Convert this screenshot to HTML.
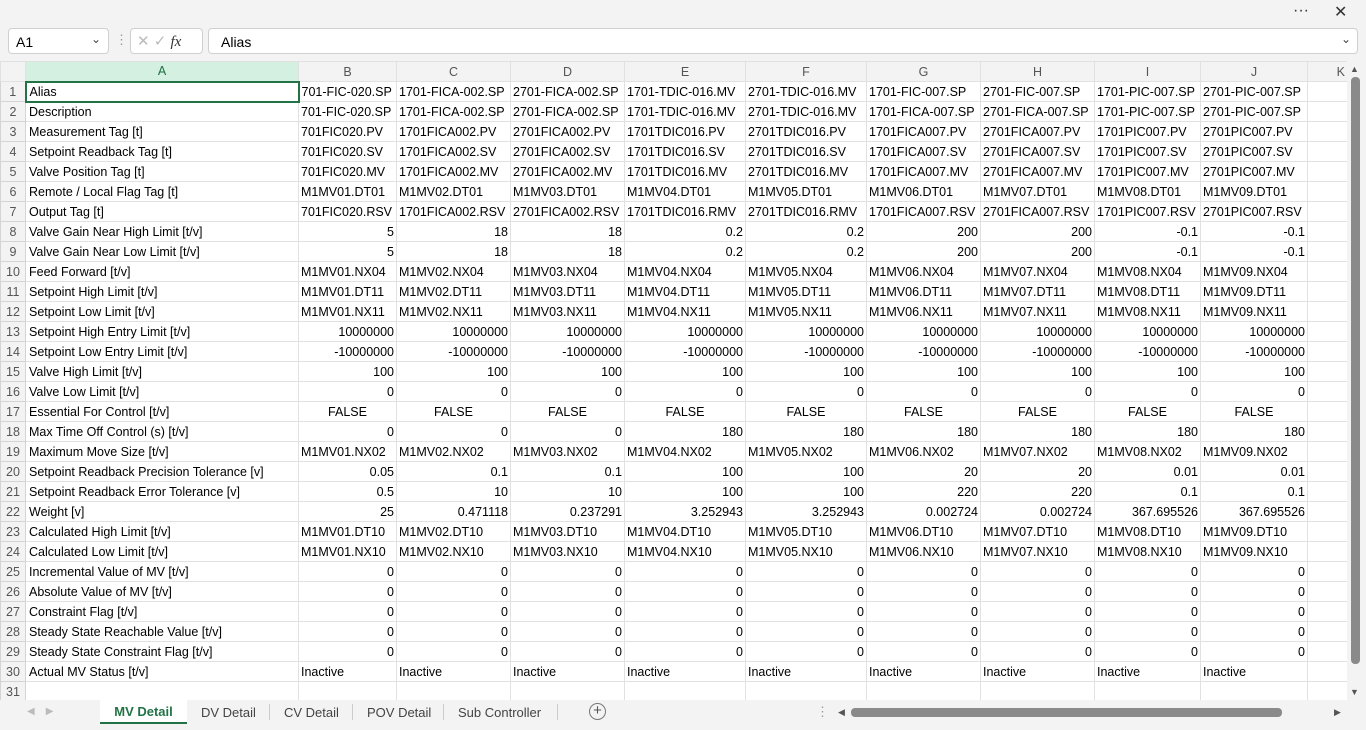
<!DOCTYPE html>
<html><head><meta charset="utf-8"><style>
*{box-sizing:border-box;margin:0;padding:0}
body{width:1366px;height:730px;background:#f3f3f3;font-family:"Liberation Sans",sans-serif;position:relative;overflow:hidden}
.abs{position:absolute}
table{position:absolute;left:0;top:61px;width:1347px;border-collapse:collapse;table-layout:fixed;background:#fff;font-size:12.5px;color:#000}
td{height:20px;border:1px solid #e1e1e1;padding:0 2px;white-space:nowrap;overflow:hidden;line-height:18px}
td.h{background:#f3f3f3;color:#555;text-align:center;border-color:#d4d4d4}
tr.hd td{background:#f3f3f3;color:#555;text-align:center;height:20px}
td.r{text-align:right}
td.c{text-align:center}
td.l{padding-left:3px}
</style></head><body>
<div class="abs" style="left:1293px;top:2px;font-size:16px;color:#333">···</div>
<div class="abs" style="left:1334px;top:2px;font-size:16px;color:#333">✕</div>
<div class="abs" style="left:8px;top:28px;width:101px;height:26px;background:#fff;border:1px solid #d0d0d0;border-radius:4px;font-size:14px;padding:5px 7px">A1<span style="position:absolute;right:7px;top:3px;font-size:12px;color:#444">⌄</span></div>
<div class="abs" style="left:115px;top:32px;color:#999;font-size:13px">⋮</div>
<div class="abs" style="left:130px;top:28px;width:73px;height:26px;background:#fff;border:1px solid #d0d0d0;border-radius:4px;font-size:15px;padding:3px 6px;color:#bbb">✕ ✓ <i style="color:#333;font-family:'Liberation Serif',serif">fx</i></div>
<div class="abs" style="left:208px;top:28px;width:1150px;height:26px;background:#fff;border:1px solid #d0d0d0;border-radius:4px;font-size:14px;padding:5px 12px">Alias<span style="position:absolute;right:6px;top:3px;font-size:12px;color:#444">⌄</span></div>
<table>
<colgroup><col style="width:25px"><col style="width:273px"><col style="width:98px"><col style="width:114px"><col style="width:114px"><col style="width:121px"><col style="width:121px"><col style="width:114px"><col style="width:114px"><col style="width:106px"><col style="width:107px"><col style="width:40px"></colgroup>
<tr class="hd"><td></td><td style="background:#d3f0e0;color:#1e6e42;border-bottom:2px solid #217346">A</td><td>B</td><td>C</td><td>D</td><td>E</td><td>F</td><td>G</td><td>H</td><td>I</td><td>J</td><td style="text-align:right">K</td></tr>
<tr><td class="h">1</td><td class="l" style="border:2px solid #217346">Alias</td><td>701-FIC-020.SP</td><td>1701-FICA-002.SP</td><td>2701-FICA-002.SP</td><td>1701-TDIC-016.MV</td><td>2701-TDIC-016.MV</td><td>1701-FIC-007.SP</td><td>2701-FIC-007.SP</td><td>1701-PIC-007.SP</td><td>2701-PIC-007.SP</td><td></td></tr>
<tr><td class="h">2</td><td class="l">Description</td><td>701-FIC-020.SP</td><td>1701-FICA-002.SP</td><td>2701-FICA-002.SP</td><td>1701-TDIC-016.MV</td><td>2701-TDIC-016.MV</td><td>1701-FICA-007.SP</td><td>2701-FICA-007.SP</td><td>1701-PIC-007.SP</td><td>2701-PIC-007.SP</td><td></td></tr>
<tr><td class="h">3</td><td class="l">Measurement Tag [t]</td><td>701FIC020.PV</td><td>1701FICA002.PV</td><td>2701FICA002.PV</td><td>1701TDIC016.PV</td><td>2701TDIC016.PV</td><td>1701FICA007.PV</td><td>2701FICA007.PV</td><td>1701PIC007.PV</td><td>2701PIC007.PV</td><td></td></tr>
<tr><td class="h">4</td><td class="l">Setpoint Readback Tag [t]</td><td>701FIC020.SV</td><td>1701FICA002.SV</td><td>2701FICA002.SV</td><td>1701TDIC016.SV</td><td>2701TDIC016.SV</td><td>1701FICA007.SV</td><td>2701FICA007.SV</td><td>1701PIC007.SV</td><td>2701PIC007.SV</td><td></td></tr>
<tr><td class="h">5</td><td class="l">Valve Position Tag [t]</td><td>701FIC020.MV</td><td>1701FICA002.MV</td><td>2701FICA002.MV</td><td>1701TDIC016.MV</td><td>2701TDIC016.MV</td><td>1701FICA007.MV</td><td>2701FICA007.MV</td><td>1701PIC007.MV</td><td>2701PIC007.MV</td><td></td></tr>
<tr><td class="h">6</td><td class="l">Remote / Local Flag Tag [t]</td><td>M1MV01.DT01</td><td>M1MV02.DT01</td><td>M1MV03.DT01</td><td>M1MV04.DT01</td><td>M1MV05.DT01</td><td>M1MV06.DT01</td><td>M1MV07.DT01</td><td>M1MV08.DT01</td><td>M1MV09.DT01</td><td></td></tr>
<tr><td class="h">7</td><td class="l">Output Tag [t]</td><td>701FIC020.RSV</td><td>1701FICA002.RSV</td><td>2701FICA002.RSV</td><td>1701TDIC016.RMV</td><td>2701TDIC016.RMV</td><td>1701FICA007.RSV</td><td>2701FICA007.RSV</td><td>1701PIC007.RSV</td><td>2701PIC007.RSV</td><td></td></tr>
<tr><td class="h">8</td><td class="l">Valve Gain Near High Limit [t/v]</td><td class="r">5</td><td class="r">18</td><td class="r">18</td><td class="r">0.2</td><td class="r">0.2</td><td class="r">200</td><td class="r">200</td><td class="r">-0.1</td><td class="r">-0.1</td><td></td></tr>
<tr><td class="h">9</td><td class="l">Valve Gain Near Low Limit [t/v]</td><td class="r">5</td><td class="r">18</td><td class="r">18</td><td class="r">0.2</td><td class="r">0.2</td><td class="r">200</td><td class="r">200</td><td class="r">-0.1</td><td class="r">-0.1</td><td></td></tr>
<tr><td class="h">10</td><td class="l">Feed Forward [t/v]</td><td>M1MV01.NX04</td><td>M1MV02.NX04</td><td>M1MV03.NX04</td><td>M1MV04.NX04</td><td>M1MV05.NX04</td><td>M1MV06.NX04</td><td>M1MV07.NX04</td><td>M1MV08.NX04</td><td>M1MV09.NX04</td><td></td></tr>
<tr><td class="h">11</td><td class="l">Setpoint High Limit [t/v]</td><td>M1MV01.DT11</td><td>M1MV02.DT11</td><td>M1MV03.DT11</td><td>M1MV04.DT11</td><td>M1MV05.DT11</td><td>M1MV06.DT11</td><td>M1MV07.DT11</td><td>M1MV08.DT11</td><td>M1MV09.DT11</td><td></td></tr>
<tr><td class="h">12</td><td class="l">Setpoint Low Limit [t/v]</td><td>M1MV01.NX11</td><td>M1MV02.NX11</td><td>M1MV03.NX11</td><td>M1MV04.NX11</td><td>M1MV05.NX11</td><td>M1MV06.NX11</td><td>M1MV07.NX11</td><td>M1MV08.NX11</td><td>M1MV09.NX11</td><td></td></tr>
<tr><td class="h">13</td><td class="l">Setpoint High Entry Limit [t/v]</td><td class="r">10000000</td><td class="r">10000000</td><td class="r">10000000</td><td class="r">10000000</td><td class="r">10000000</td><td class="r">10000000</td><td class="r">10000000</td><td class="r">10000000</td><td class="r">10000000</td><td></td></tr>
<tr><td class="h">14</td><td class="l">Setpoint Low Entry Limit [t/v]</td><td class="r">-10000000</td><td class="r">-10000000</td><td class="r">-10000000</td><td class="r">-10000000</td><td class="r">-10000000</td><td class="r">-10000000</td><td class="r">-10000000</td><td class="r">-10000000</td><td class="r">-10000000</td><td></td></tr>
<tr><td class="h">15</td><td class="l">Valve High Limit [t/v]</td><td class="r">100</td><td class="r">100</td><td class="r">100</td><td class="r">100</td><td class="r">100</td><td class="r">100</td><td class="r">100</td><td class="r">100</td><td class="r">100</td><td></td></tr>
<tr><td class="h">16</td><td class="l">Valve Low Limit [t/v]</td><td class="r">0</td><td class="r">0</td><td class="r">0</td><td class="r">0</td><td class="r">0</td><td class="r">0</td><td class="r">0</td><td class="r">0</td><td class="r">0</td><td></td></tr>
<tr><td class="h">17</td><td class="l">Essential For Control [t/v]</td><td class="c">FALSE</td><td class="c">FALSE</td><td class="c">FALSE</td><td class="c">FALSE</td><td class="c">FALSE</td><td class="c">FALSE</td><td class="c">FALSE</td><td class="c">FALSE</td><td class="c">FALSE</td><td></td></tr>
<tr><td class="h">18</td><td class="l">Max Time Off Control (s) [t/v]</td><td class="r">0</td><td class="r">0</td><td class="r">0</td><td class="r">180</td><td class="r">180</td><td class="r">180</td><td class="r">180</td><td class="r">180</td><td class="r">180</td><td></td></tr>
<tr><td class="h">19</td><td class="l">Maximum Move Size [t/v]</td><td>M1MV01.NX02</td><td>M1MV02.NX02</td><td>M1MV03.NX02</td><td>M1MV04.NX02</td><td>M1MV05.NX02</td><td>M1MV06.NX02</td><td>M1MV07.NX02</td><td>M1MV08.NX02</td><td>M1MV09.NX02</td><td></td></tr>
<tr><td class="h">20</td><td class="l">Setpoint Readback Precision Tolerance [v]</td><td class="r">0.05</td><td class="r">0.1</td><td class="r">0.1</td><td class="r">100</td><td class="r">100</td><td class="r">20</td><td class="r">20</td><td class="r">0.01</td><td class="r">0.01</td><td></td></tr>
<tr><td class="h">21</td><td class="l">Setpoint Readback Error Tolerance [v]</td><td class="r">0.5</td><td class="r">10</td><td class="r">10</td><td class="r">100</td><td class="r">100</td><td class="r">220</td><td class="r">220</td><td class="r">0.1</td><td class="r">0.1</td><td></td></tr>
<tr><td class="h">22</td><td class="l">Weight [v]</td><td class="r">25</td><td class="r">0.471118</td><td class="r">0.237291</td><td class="r">3.252943</td><td class="r">3.252943</td><td class="r">0.002724</td><td class="r">0.002724</td><td class="r">367.695526</td><td class="r">367.695526</td><td></td></tr>
<tr><td class="h">23</td><td class="l">Calculated High Limit [t/v]</td><td>M1MV01.DT10</td><td>M1MV02.DT10</td><td>M1MV03.DT10</td><td>M1MV04.DT10</td><td>M1MV05.DT10</td><td>M1MV06.DT10</td><td>M1MV07.DT10</td><td>M1MV08.DT10</td><td>M1MV09.DT10</td><td></td></tr>
<tr><td class="h">24</td><td class="l">Calculated Low Limit [t/v]</td><td>M1MV01.NX10</td><td>M1MV02.NX10</td><td>M1MV03.NX10</td><td>M1MV04.NX10</td><td>M1MV05.NX10</td><td>M1MV06.NX10</td><td>M1MV07.NX10</td><td>M1MV08.NX10</td><td>M1MV09.NX10</td><td></td></tr>
<tr><td class="h">25</td><td class="l">Incremental Value of MV [t/v]</td><td class="r">0</td><td class="r">0</td><td class="r">0</td><td class="r">0</td><td class="r">0</td><td class="r">0</td><td class="r">0</td><td class="r">0</td><td class="r">0</td><td></td></tr>
<tr><td class="h">26</td><td class="l">Absolute Value of MV [t/v]</td><td class="r">0</td><td class="r">0</td><td class="r">0</td><td class="r">0</td><td class="r">0</td><td class="r">0</td><td class="r">0</td><td class="r">0</td><td class="r">0</td><td></td></tr>
<tr><td class="h">27</td><td class="l">Constraint Flag [t/v]</td><td class="r">0</td><td class="r">0</td><td class="r">0</td><td class="r">0</td><td class="r">0</td><td class="r">0</td><td class="r">0</td><td class="r">0</td><td class="r">0</td><td></td></tr>
<tr><td class="h">28</td><td class="l">Steady State Reachable Value [t/v]</td><td class="r">0</td><td class="r">0</td><td class="r">0</td><td class="r">0</td><td class="r">0</td><td class="r">0</td><td class="r">0</td><td class="r">0</td><td class="r">0</td><td></td></tr>
<tr><td class="h">29</td><td class="l">Steady State Constraint Flag [t/v]</td><td class="r">0</td><td class="r">0</td><td class="r">0</td><td class="r">0</td><td class="r">0</td><td class="r">0</td><td class="r">0</td><td class="r">0</td><td class="r">0</td><td></td></tr>
<tr><td class="h">30</td><td class="l">Actual MV Status [t/v]</td><td>Inactive</td><td>Inactive</td><td>Inactive</td><td>Inactive</td><td>Inactive</td><td>Inactive</td><td>Inactive</td><td>Inactive</td><td>Inactive</td><td></td></tr>
<tr><td class="h">31</td><td></td><td></td><td></td><td></td><td></td><td></td><td></td><td></td><td></td><td></td><td></td></tr>
</table>
<div class="abs" style="left:1347px;top:61px;width:19px;height:639px;background:#f3f3f3"></div>
<div class="abs" style="left:1351px;top:77px;width:9px;height:587px;background:#8a8a8a;border-radius:4px"></div>
<div class="abs" style="left:1350px;top:64px;font-size:9px;color:#555">▲</div>
<div class="abs" style="left:1350px;top:687px;font-size:9px;color:#555">▼</div>
<div class="abs" style="left:0;top:700px;width:1366px;height:30px;background:#f3f3f3;font-size:13px;color:#444">
<span class="abs" style="left:27px;top:6px;color:#bbb;font-size:10px">◀&nbsp;&nbsp;&nbsp;&nbsp;▶</span>
<span class="abs" style="left:100px;top:0;width:87px;height:24px;background:#fff;border-bottom:2px solid #217346;color:#217346;font-weight:bold;text-align:center;line-height:24px">MV Detail</span>
<span class="abs" style="left:201px;top:5px">DV Detail</span>
<span class="abs" style="left:269px;top:4px;width:1px;height:16px;background:#ccc"></span>
<span class="abs" style="left:284px;top:5px">CV Detail</span>
<span class="abs" style="left:352px;top:4px;width:1px;height:16px;background:#ccc"></span>
<span class="abs" style="left:367px;top:5px">POV Detail</span>
<span class="abs" style="left:443px;top:4px;width:1px;height:16px;background:#ccc"></span>
<span class="abs" style="left:458px;top:5px">Sub Controller</span>
<span class="abs" style="left:557px;top:4px;width:1px;height:16px;background:#ccc"></span>
<span class="abs" style="left:589px;top:3px;width:17px;height:17px;border:1px solid #777;border-radius:50%;text-align:center;line-height:14px;font-size:15px;color:#555">+</span>
<span class="abs" style="left:816px;top:4px;color:#999">⋮</span>
<span class="abs" style="left:838px;top:7px;font-size:9px;color:#555">◀</span>
<span class="abs" style="left:851px;top:8px;width:431px;height:9px;background:#8a8a8a;border-radius:4px"></span>
<span class="abs" style="left:1334px;top:7px;font-size:9px;color:#555">▶</span>
</div>
</body></html>
